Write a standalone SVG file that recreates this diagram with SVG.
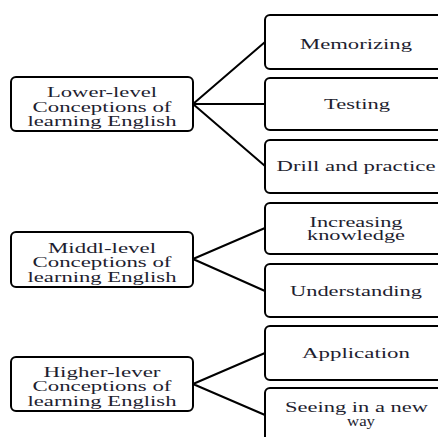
<svg xmlns="http://www.w3.org/2000/svg" width="438" height="437" viewBox="0 0 438 437">
<style>
.box{fill:#fff;stroke:#000;stroke-width:2}
.t{font-family:"Liberation Serif","Times New Roman",serif;font-size:15px;fill:#1e1e30;text-anchor:middle}
.c{stroke:#000;stroke-width:2;fill:none}
</style>
<rect width="438" height="437" fill="#fff"/>
<g id="connectors">
<path class="c" d="M193,104 L265,42 M193,104 L265,104 M193,104 L265,166"/>
<path class="c" d="M193,259 L265,228 M193,259 L265,291"/>
<path class="c" d="M193,384 L265,353 M193,384 L265,415"/>
</g>
<g id="lower">
<rect class="box" x="11" y="77" width="182" height="54" rx="5"/>
<text class="t" x="102" y="96.5" textLength="110" lengthAdjust="spacingAndGlyphs">Lower-level</text>
<text class="t" x="102" y="111.5" textLength="139" lengthAdjust="spacingAndGlyphs">Conceptions of</text>
<text class="t" x="102" y="125.5" textLength="149" lengthAdjust="spacingAndGlyphs">learning English</text>
</g>
<g id="middle">
<rect class="box" x="11" y="232" width="182" height="55" rx="5"/>
<text class="t" x="102" y="252.5" textLength="108" lengthAdjust="spacingAndGlyphs">Middl-level</text>
<text class="t" x="102" y="267" textLength="139" lengthAdjust="spacingAndGlyphs">Conceptions of</text>
<text class="t" x="102" y="281.5" textLength="149" lengthAdjust="spacingAndGlyphs">learning English</text>
</g>
<g id="higher">
<rect class="box" x="11" y="357" width="182" height="54" rx="5"/>
<text class="t" x="102" y="376.5" textLength="117" lengthAdjust="spacingAndGlyphs">Higher-lever</text>
<text class="t" x="102" y="391" textLength="139" lengthAdjust="spacingAndGlyphs">Conceptions of</text>
<text class="t" x="102" y="405.5" textLength="149" lengthAdjust="spacingAndGlyphs">learning English</text>
</g>
<g id="memorizing">
<rect class="box" x="265" y="15" width="183" height="54" rx="5"/>
<text class="t" x="356" y="48.5" textLength="112" lengthAdjust="spacingAndGlyphs">Memorizing</text>
</g>
<g id="testing">
<rect class="box" x="265" y="78" width="183" height="52" rx="5"/>
<text class="t" x="357" y="109" textLength="66" lengthAdjust="spacingAndGlyphs">Testing</text>
</g>
<g id="drill">
<rect class="box" x="265" y="140" width="183" height="53" rx="5"/>
<text class="t" x="356" y="171" textLength="159" lengthAdjust="spacingAndGlyphs">Drill and practice</text>
</g>
<g id="increasing">
<rect class="box" x="265" y="203" width="183" height="51" rx="5"/>
<text class="t" x="356" y="227" textLength="93" lengthAdjust="spacingAndGlyphs">Increasing</text>
<text class="t" x="356" y="239.5" textLength="98" lengthAdjust="spacingAndGlyphs">knowledge</text>
</g>
<g id="understanding">
<rect class="box" x="265" y="264" width="183" height="53" rx="5"/>
<text class="t" x="356" y="296" textLength="132" lengthAdjust="spacingAndGlyphs">Understanding</text>
</g>
<g id="application">
<rect class="box" x="265" y="326" width="183" height="54" rx="5"/>
<text class="t" x="356" y="357.5" textLength="108" lengthAdjust="spacingAndGlyphs">Application</text>
</g>
<g id="seeing">
<rect class="box" x="265" y="388" width="183" height="60" rx="5"/>
<text class="t" x="356.5" y="412" textLength="143" lengthAdjust="spacingAndGlyphs">Seeing in a new</text>
<text class="t" x="361" y="426" textLength="28" lengthAdjust="spacingAndGlyphs">way</text>
</g>
</svg>
